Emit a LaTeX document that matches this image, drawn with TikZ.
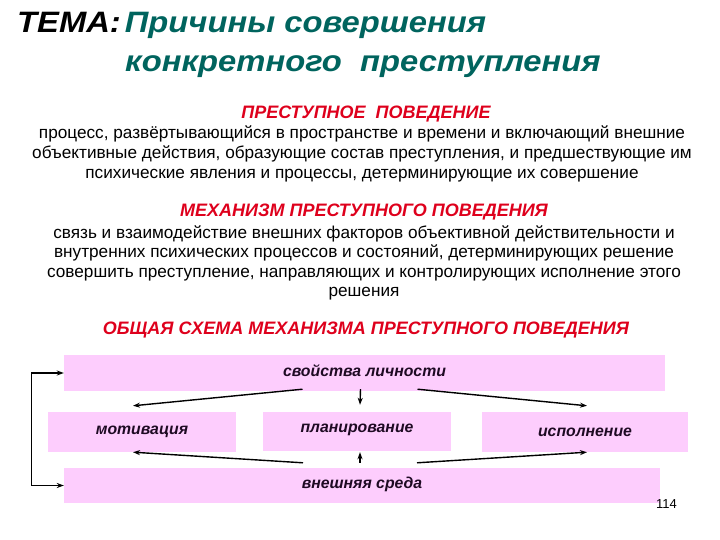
\documentclass[tikz,border=0pt]{standalone}
\usepackage{fontspec}
\setmainfont{Liberation Sans}
\newfontfamily\titlefont{Liberation Sans}[FakeStretch=1.11]
\usepackage{xcolor}
\definecolor{colTheme}{RGB}{0,100,94}
\definecolor{colHead}{RGB}{222,0,28}
\definecolor{colBox}{RGB}{253,205,253}
\definecolor{colBoxText}{RGB}{30,10,35}
\usepackage{tikz}
\usetikzlibrary{arrows.meta, calc}

\begin{document}
\begin{tikzpicture}[
		x=1pt, y=-1pt,
		titletxt/.style={anchor=base west, inner sep=0pt,
			font=\titlefont\fontsize{29.5}{29.5}\selectfont\bfseries\itshape},
		headtxt/.style={text=colHead, font=\fontsize{18}{18}\selectfont\bfseries\itshape},
		bodytxt/.style={align=center, font=\fontsize{17.2}{19.6}\selectfont, inner sep=0pt},
		pinkbox/.style={fill=colBox, inner sep=0pt, text=colBoxText,
			font=\fontsize{15.8}{15.8}\selectfont\bfseries\itshape},
		schemarr/.style={-{Stealth[length=7pt, width=5pt]}, line width=1.4pt},
		>=Stealth
	]
		\useasboundingbox (0,0) rectangle (720,540);

		% title
		\node[titletxt] (title1) at (17,33)
			{ТЕМА:\kern4pt\textcolor{colTheme}{Причины совершения}};
		\node[titletxt, text=colTheme] (title2) at (125,72)
			{конкретного\ \ преступления};

		% definitions
		\node[headtxt] (head1) at (366,114) {ПРЕСТУПНОЕ\ \ ПОВЕДЕНИЕ};
		\node[bodytxt] (body1) at (362,154)
			{процесс, развёртывающийся в пространстве и времени и включающий внешние\\
			объективные действия, образующие состав преступления, и предшествующие им\\
			психические явления и процессы, детерминирующие их совершение};

		\node[headtxt] (head2) at (364,212) {МЕХАНИЗМ ПРЕСТУПНОГО ПОВЕДЕНИЯ};
		\node[bodytxt] (body2) at (364,263)
			{связь и взаимодействие внешних факторов объективной действительности и\\
			внутренних психических процессов и состояний, детерминирующих решение\\
			совершить преступление, направляющих и контролирующих исполнение этого\\
			решения};

		\node[headtxt] (head3) at (366,330) {ОБЩАЯ СХЕМА МЕХАНИЗМА ПРЕСТУПНОГО ПОВЕДЕНИЯ};

		% scheme
		\node[pinkbox, minimum width=601, minimum height=36, text depth=4pt] (props) at (364.5,373) {свойства личности};
		\node[pinkbox, minimum width=188, minimum height=40] (motiv) at (142,432) {мотивация};
		\node[pinkbox, minimum width=188, minimum height=39, text depth=7pt] (plan) at (357,431.5) {планирование};
		\node[pinkbox, minimum width=206, minimum height=40] (exec) at (585,432) {исполнение};
		\node[pinkbox, minimum width=596, minimum height=35, text depth=5pt] (env) at (362,485.5) {внешняя среда};

		\node[anchor=west, inner sep=0pt, font=\fontsize{13}{13}\selectfont] (pagenum) at (656,504) {114};

		% personality -> stages
		\draw[schemarr] ($(props.south)+(-62,-2)$) -- ($(motiv.north)+(-9,-6)$);
		\draw[schemarr] ($(props.south)+(-4,-2)$)  -- ($(plan.north)+(3,-7)$);
		\draw[schemarr] ($(props.south)+(53,-2)$)  -- ($(exec.north)+(2,-6)$);

		% environment -> stages
		\draw[schemarr] ($(env.north)+(-59,-5)$) -- ($(motiv.south)+(-9,0)$);
		\draw[schemarr] ($(env.north)+(-2,-5)$)  -- ($(plan.south)+(3,1)$);
		\draw[schemarr] ($(env.north)+(55,-5)$)  -- ($(exec.south)+(2,0)$);

		% feedback loop
		\draw[schemarr, line width=1.2pt, {Stealth[length=7pt, width=5pt]}-{Stealth[length=7pt, width=5pt]}]
			(props.west) -- ++(-32,0) |- (env.west);
	\end{tikzpicture}
\end{document}
